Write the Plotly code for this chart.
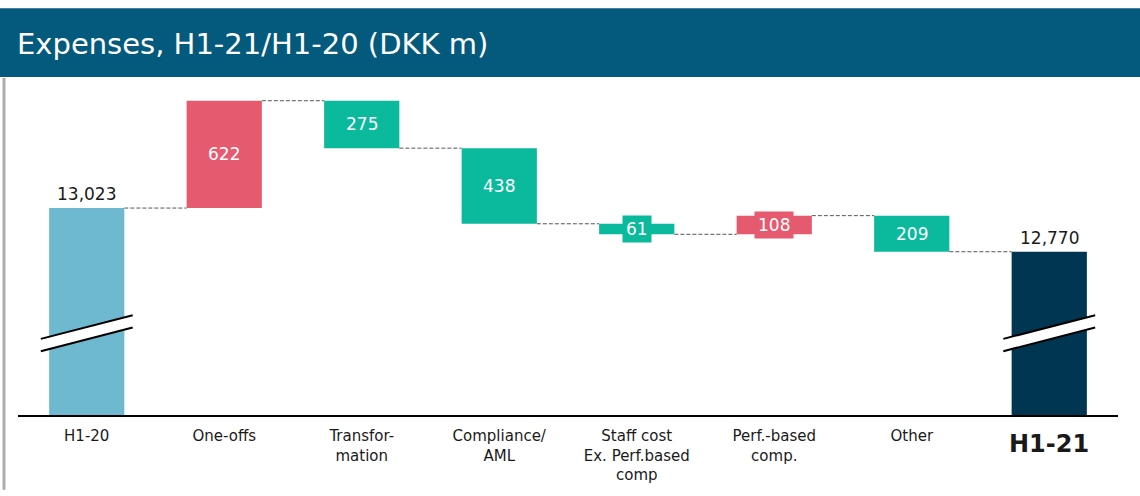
import numpy as np
import plotly.graph_objects as go

# ---- data ----
categories = ["H1-20", "One-offs", "Transformation", "Compliance/AML",
              "Staff cost Ex. Perf.based comp", "Perf.-based comp.", "Other", "H1-21"]
tick_labels = ["H1-20", "One-offs", "Transfor-<br>mation", "Compliance/<br>AML",
               "Staff cost<br>Ex. Perf.based<br>comp", "Perf.-based<br>comp.", "Other", ""]
last_label = "H1-21"
start_total = 13023
changes = [622, -275, -438, -61, 108, -209]
end_total = 12770

# ---- styles ----
C_START = "#6EB9CF"
C_END = "#003652"
C_UP = "#E55A6E"
C_DOWN = "#0BB99C"
C_TITLE = "#035A7C"
FONT = "DejaVu Sans"

levels = start_total + np.cumsum(changes)
bases = [0, start_total] + list(levels[:-1]) + [0]
heights = [start_total] + changes + [end_total]
colors = [C_START] + [C_UP if c > 0 else C_DOWN for c in changes] + [C_END]
xs = list(range(len(categories)))
bw = 0.547

fig = go.Figure()
fig.add_trace(go.Bar(x=xs, y=heights, base=bases, width=bw,
                     marker=dict(color=colors, line=dict(width=0)),
                     hoverinfo="skip", showlegend=False))

# connectors
ends = [start_total] + list(levels)
shapes = []
for i in range(len(categories) - 1):
    shapes.append(dict(type="line", xref="x", yref="y",
                       x0=i + bw / 2, x1=i + 1 - bw / 2, y0=ends[i], y1=ends[i],
                       line=dict(color="#555555", width=1, dash="4px,2px")))

annotations = []
# totals labels
for i, v in [(0, start_total), (len(categories) - 1, end_total)]:
    annotations.append(dict(x=i, y=v, xref="x", yref="y", text=f"{v:,}",
                            showarrow=False, yanchor="bottom", yshift=2,
                            font=dict(family=FONT, size=17, color="#1a1a1a")))
# change labels
for k, c in enumerate(changes):
    i = k + 1
    annotations.append(dict(x=i, y=bases[i] + c / 2, xref="x", yref="y", text=str(abs(c)),
                            showarrow=False, bgcolor=colors[i], borderpad=3,
                            font=dict(family=FONT, size=17, color="white")))

# axis break marks on total bars
ylo, yhi, gap = 0.2307, 0.3024, 0.0373
for i in (0, len(categories) - 1):
    xa, xb = i - 0.334, i + 0.334
    shapes.append(dict(type="path", xref="x", yref="paper",
                       path=f"M {xa} {ylo} L {xb} {yhi} L {xb} {yhi - gap} L {xa} {ylo - gap} Z",
                       fillcolor="white", line=dict(width=0)))
    for off in (0, gap):
        shapes.append(dict(type="line", xref="x", yref="paper",
                           x0=xa, x1=xb, y0=ylo - off, y1=yhi - off,
                           line=dict(color="black", width=2)))

# header band and left rule (layout decoration)
W, H = 1140, 496
ml, mr, mt, mb = 18, 22, 85, 76
pw, ph = W - ml - mr, H - mt - mb
px = lambda p: (p - ml) / pw
py = lambda p: (H - mb - p) / ph
shapes.append(dict(type="rect", xref="paper", yref="paper", x0=px(0), x1=px(1140),
                   y0=py(77), y1=py(7), fillcolor=C_TITLE, line=dict(width=0), layer="below"))
shapes.append(dict(type="line", xref="paper", yref="paper", x0=px(4), x1=px(4),
                   y0=py(78), y1=py(496), line=dict(color="#A9ADB0", width=3)))
annotations.append(dict(xref="paper", yref="paper", x=px(15), y=py(43), xanchor="left",
                        yanchor="middle", showarrow=False,
                        text="Expenses, H1-21/H1-20 (DKK m)",
                        font=dict(family=FONT, size=29, color="white")))
# emphasised last category label
annotations.append(dict(xref="x", yref="paper", x=xs[-1], y=py(449), yanchor="middle",
                        showarrow=False, text=f"<b>{last_label}</b>",
                        font=dict(family=FONT, size=24, color="#1a1a1a")))

fig.update_layout(
    width=W, height=H, autosize=False,
    margin=dict(l=ml, r=mr, t=mt, b=mb, pad=0),
    plot_bgcolor="white", paper_bgcolor="white",
    shapes=shapes, annotations=annotations,
    bargap=0.453,
    xaxis=dict(tickmode="array", tickvals=xs, ticktext=tick_labels, range=[-0.5, len(xs) - 0.5],
               showline=True, linecolor="black", linewidth=2, showgrid=False, zeroline=False,
               ticks="", ticklabelstandoff=6,
               tickfont=dict(family=FONT, size=15, color="#1a1a1a")),
    yaxis=dict(range=[11824, 13736], visible=False, showgrid=False, zeroline=False),
)

fig.write_html("out.html", config={"displayModeBar": False},
               post_script="document.body.style.margin='0';")
